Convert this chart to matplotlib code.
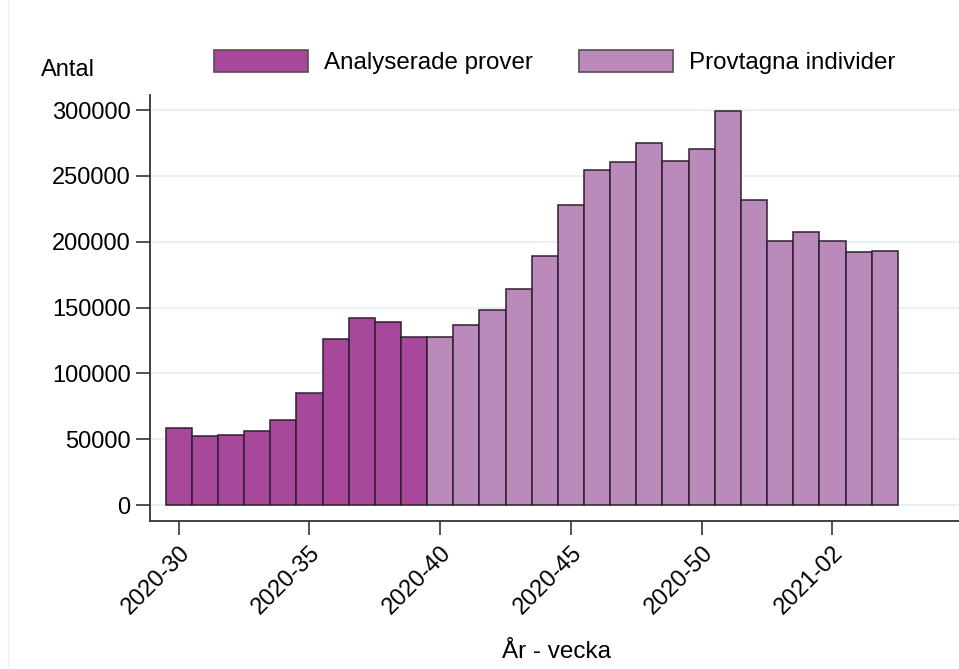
import matplotlib.pyplot as plt
from matplotlib.lines import Line2D

plt.rcParams['font.family'] = ['Liberation Sans', 'DejaVu Sans']

weeks = ["2020-30", "2020-31", "2020-32", "2020-33", "2020-34", "2020-35", "2020-36",
         "2020-37", "2020-38", "2020-39", "2020-40", "2020-41", "2020-42", "2020-43",
         "2020-44", "2020-45", "2020-46", "2020-47", "2020-48", "2020-49", "2020-50",
         "2020-51", "2020-52", "2020-53", "2021-01", "2021-02", "2021-03", "2021-04"]

# Analyserade prover, weeks 2020-30 .. 2020-39
analyserade = [58300, 52400, 53400, 56500, 64600, 84800, 126300, 142000, 138800, 127400]
# Provtagna individer, weeks 2020-40 .. 2021-04
provtagna = [127400, 136700, 147900, 164000, 188900, 227600, 254200, 260300, 275200,
             261000, 270400, 299000, 231700, 200500, 207100, 200300, 192400, 193200]

yticks = [0, 50000, 100000, 150000, 200000, 250000, 300000]
tick_idx = [0, 5, 10, 15, 20, 25]

dark = "#a8489a"
light = "#b98aba"
edge = "#2e1f2e"

fig = plt.figure(figsize=(9.59, 6.69), dpi=100)
ax = fig.add_axes([0.1564, 0.2217, 0.8436, 0.6363])

x_a = list(range(len(analyserade)))
x_p = list(range(len(analyserade), len(analyserade) + len(provtagna)))

ax.bar(x_a, analyserade, width=1.0, color=dark, edgecolor=edge, linewidth=1.1,
       label="Analyserade prover", zorder=3)
ax.bar(x_p, provtagna, width=1.0, color=light, edgecolor=edge, linewidth=1.1,
       label="Provtagna individer", zorder=3)

ax.set_xlim(-1.1, 29.84)
ax.set_ylim(-11900, 311400)

ax.set_yticks(yticks)
ax.set_yticklabels([str(v) for v in yticks], fontsize=17)
ax.set_xticks(tick_idx)
ax.set_xticklabels([weeks[i] for i in tick_idx], fontsize=17, rotation=45,
                   ha="right", rotation_mode="anchor")
ax.tick_params(axis="both", length=10, width=1.2, color="#333333", pad=4)
ax.tick_params(axis="x", pad=5)

ax.grid(axis="y", color="#e9f1f3", linewidth=1.5, zorder=0)
for s in ["top", "right"]:
    ax.spines[s].set_visible(False)
for s in ["left", "bottom"]:
    ax.spines[s].set_color("#333333")
    ax.spines[s].set_linewidth(1.3)

fig.text(557 / 959, 1 - 652 / 669, "År - vecka", fontsize=17.5, va="center", ha="center")
fig.text(41 / 959, 1 - 70 / 669, "Antal", fontsize=17, va="center", ha="left")

leg = ax.legend(loc="center", bbox_to_anchor=(0.5, 1 + (95 - 62) / 425.7), ncol=2,
                frameon=False, fontsize=17.4, handlelength=3.9, handleheight=1.05,
                handletextpad=0.65, columnspacing=1.9)
for p in leg.get_patches():
    p.set_linewidth(1.2)
    p.set_edgecolor("#5a4a5a")

fig.add_artist(Line2D([8 / 959, 8 / 959], [0, 1], color="#f2f2f2", linewidth=1))

fig.savefig("out.png", dpi=100)
